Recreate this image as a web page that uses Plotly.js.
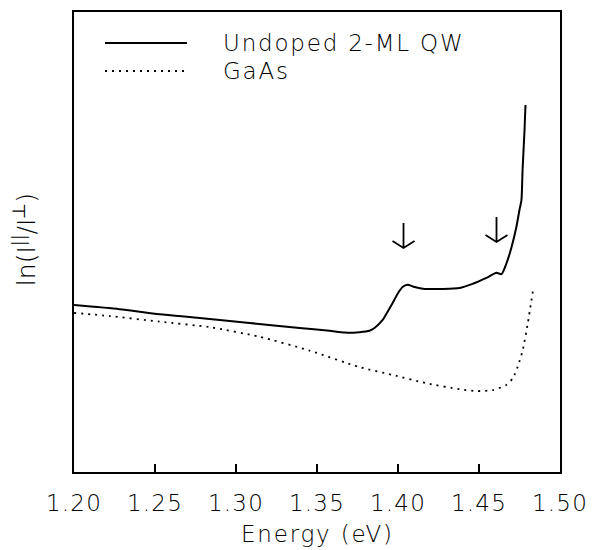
<!DOCTYPE html>
<html>
<head>
<meta charset="utf-8">
<script src="https://cdn.plot.ly/plotly-3.0.1.min.js"></script>
<style>
html, body { margin: 0; padding: 0; background: #fff; }
#chart { width: 592px; height: 550px; }
.xtick text { letter-spacing: 1.2px; }
.annotation-text { letter-spacing: 1.8px; }
.annotation[data-index="3"] .annotation-text { letter-spacing: 0px; }
</style>
</head>
<body>
<div id="chart"></div>
<script>
// Energy (eV) and ln(I||/I⊥) in arbitrary units
const qwEnergy = [1.2000, 1.2281, 1.2528, 1.2775, 1.3083, 1.3392, 1.3577, 1.3670, 1.3762, 1.3824,
  1.3855, 1.3904, 1.3935, 1.3966, 1.3997, 1.4028, 1.4059, 1.4102, 1.4164, 1.4275,
  1.4380, 1.4460, 1.4546, 1.4608, 1.4639, 1.4670, 1.4701, 1.4731, 1.4750, 1.4762,
  1.4769, 1.4781, 1.4787];
const qwSignal = [36.3, 35.4, 34.3, 33.5, 32.4, 31.3, 30.7, 30.3, 30.4, 30.7,
  31.3, 33.0, 34.8, 36.7, 38.7, 40.2, 40.7, 40.2, 39.8, 39.8,
  40.0, 40.9, 42.2, 43.3, 43.0, 45.4, 48.9, 53.3, 57.0, 59.1,
  65.7, 74.3, 79.8];

const gaasEnergy = [1.2000, 1.2219, 1.2528, 1.2836, 1.3145, 1.3454, 1.3762, 1.3968, 1.4174, 1.4380,
  1.4483, 1.4585, 1.4668, 1.4709, 1.4739, 1.4770, 1.4801, 1.4832];
const gaasSignal = [34.6, 33.9, 32.7, 31.5, 29.4, 26.4, 22.8, 21.1, 19.3, 18.0,
  17.6, 17.8, 18.9, 20.4, 22.9, 26.5, 32.3, 39.2];

const seriesNames = ['Undoped 2-ML QW', 'GaAs'];
const seriesDash = ['solid', '2px,5px'];
const tickValues = [1.20, 1.25, 1.30, 1.35, 1.40, 1.45, 1.50];
const tickLabels = ['1.20', '1.25', '1.30', '1.35', '1.40', '1.45', '1.50'];
const xTitle = 'Energy (eV)';
const yTitle = 'ln(I<sup>||</sup>/I<sup>⊥</sup>)';

// arrows marking the features
const arrowEnergy = [1.4034, 1.4608];
const arrowTip = [48.7, 50.0];

const FONT = '"DejaVu Sans", "Liberation Sans", sans-serif';
const txt = (size) => ({ family: FONT, size: size, color: '#000', weight: 200 });

const traces = [
  { x: qwEnergy, y: qwSignal, name: seriesNames[0], type: 'scatter', mode: 'lines',
    line: { color: '#000', width: 2, dash: seriesDash[0], shape: 'spline', smoothing: 0.6 } },
  { x: gaasEnergy, y: gaasSignal, name: seriesNames[1], type: 'scatter', mode: 'lines',
    line: { color: '#000', width: 1.8, dash: seriesDash[1], shape: 'spline', smoothing: 0.6 } }
];

const arrowShapes = arrowEnergy.map((e, i) => ({
  type: 'path', xref: 'x', yref: 'y',
  xsizemode: 'pixel', ysizemode: 'pixel',
  xanchor: e, yanchor: arrowTip[i],
  path: 'M0,0 L0,25 M-11,7 L0,0 L11,7',
  line: { color: '#000', width: 1.8 }
}));

// hand-built legend (wide samples with a big gap before the text)
const legendRowY = [0.9326, 0.8717];
const legendShapes = seriesNames.map((n, i) => ({
  type: 'line', xref: 'paper', yref: 'paper',
  x0: 0.0638, x1: 0.2325, y0: legendRowY[i], y1: legendRowY[i],
  line: { color: '#000', width: i === 0 ? 2 : 1.8, dash: seriesDash[i] }
}));
const legendTexts = seriesNames.map((n, i) => ({
  text: n, xref: 'paper', yref: 'paper', x: 0.3025, y: legendRowY[i],
  xanchor: 'left', yanchor: 'middle', showarrow: false, font: txt(23)
}));

const titleNotes = [
  { text: xTitle, xref: 'paper', yref: 'paper', x: 0.5, y: -0.135,
    xanchor: 'center', yanchor: 'middle', showarrow: false, font: txt(23) },
  { text: yTitle, xref: 'paper', yref: 'paper', x: -0.1008, y: 0.504, textangle: -90,
    xanchor: 'center', yanchor: 'middle', showarrow: false, font: txt(25) }
];

const layout = {
  width: 592, height: 550,
  margin: { l: 74, r: 32, t: 12, b: 78 },
  paper_bgcolor: '#fff', plot_bgcolor: '#fff',
  font: txt(23),
  showlegend: false,
  xaxis: {
    range: [1.2, 1.5], tickmode: 'array', tickvals: tickValues, ticktext: tickLabels,
    ticks: 'inside', ticklen: 8, tickwidth: 1.5, tickcolor: '#000',
    ticklabelstandoff: 10,
    showline: true, linecolor: '#000', linewidth: 1.8, mirror: true,
    showgrid: false, zeroline: false, automargin: false,
    tickfont: txt(23)
  },
  yaxis: {
    range: [0, 100], showticklabels: false, ticks: '',
    showline: true, linecolor: '#000', linewidth: 1.8, mirror: true,
    showgrid: false, zeroline: false, automargin: false
  },
  shapes: arrowShapes.concat(legendShapes),
  annotations: legendTexts.concat(titleNotes)
};

Plotly.newPlot('chart', traces, layout, { displayModeBar: false, staticPlot: true });
</script>
</body>
</html>
